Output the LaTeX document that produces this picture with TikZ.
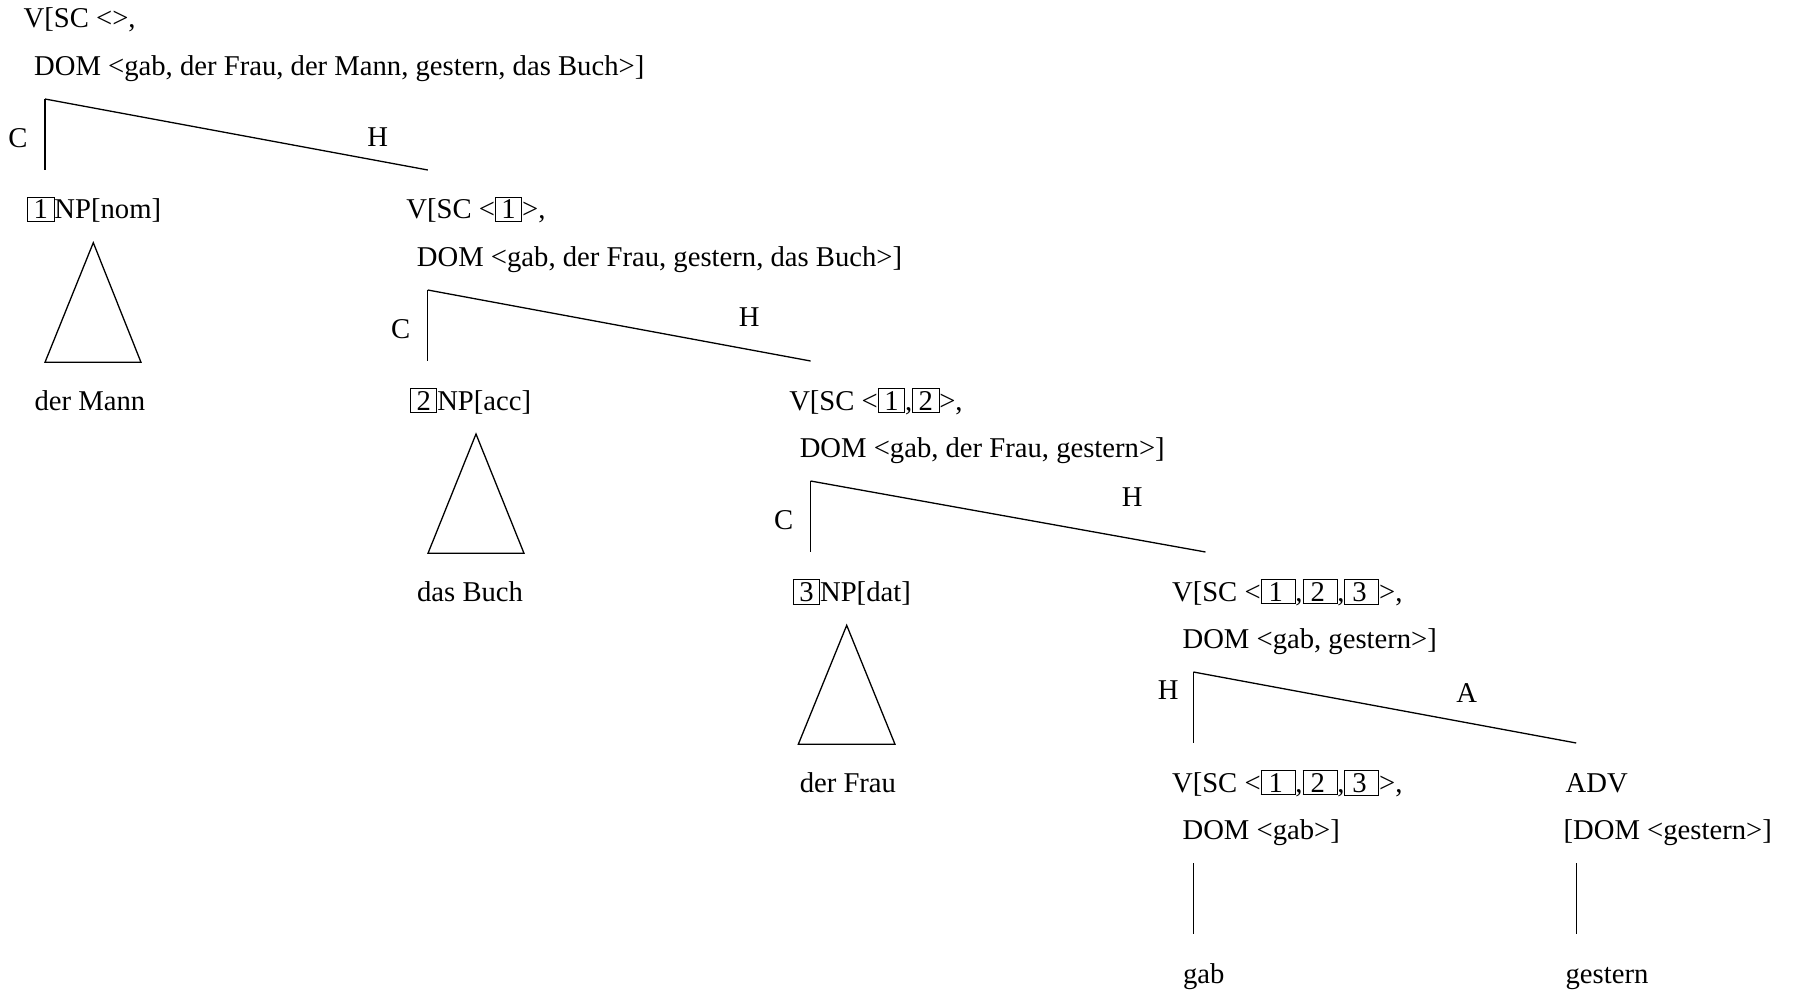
\documentclass[tikz,border=0pt]{standalone}
\usepackage{fontspec}
\setmainfont{Liberation Serif}
\usepackage{tikz}
\newcommand{\tagbox}[1]{{\setlength{\fboxsep}{1.2pt}\setlength{\fboxrule}{0.4pt}\fbox{\kern1.6pt#1\kern1.6pt}}}
\newcommand{\widetagbox}[1]{{\setlength{\fboxsep}{1.2pt}\setlength{\fboxrule}{0.4pt}\fbox{\kern2.4pt#1\kern4.6pt}}}
\tikzset{
    every node/.style={inner sep=0pt, font=\fontsize{14.33}{17}\selectfont}
}
\tikzset{
    cat/.style={anchor=base west}
}
\tikzset{
    every edge/.append style={line width=0.65pt}
}

\begin{document}
\begin{tikzpicture}[x=0.5pt, y=-0.5pt, line width=0.65pt]
	\useasboundingbox (0,0) rectangle (1795,995);
	% level 0
	\node (v0) [cat] at (23,28) {V[SC <>,};
	\node (dom0) [cat] at (33.5,75.5) {DOM <gab, der Frau, der Mann, gestern, das Buch>]};
	\coordinate (t0) at (45,99);
	\coordinate (l0) at (45,170);
	\coordinate (r0) at (427.8,170);
	\node (c0) at (18,138) {C};
	\node (h0) at (377.8,137.4) {H};
	% level 1
	\node (np1) [cat] at (26.7,219) {\tagbox{1}NP[nom]};
	\coordinate (ap1) at (93.3,242.7);
	\coordinate (bl1) at (45,362.3);
	\coordinate (br1) at (141,362.3);
	\node (mann) [cat] at (34,410) {der Mann};
	\node (v1) [cat] at (405.8,219) {V[SC <\tagbox{1}>,};
	\node (dom1) [cat] at (416.3,266.5) {DOM <gab, der Frau, gestern, das Buch>]};
	\coordinate (t1) at (427.8,290);
	\coordinate (l1) at (427.8,361);
	\coordinate (r1) at (810.6,361);
	\node (c1) at (400.7,329) {C};
	\node (h1) at (749.3,316.7) {H};
	% level 2
	\node (np2) [cat] at (409.5,410) {\tagbox{2}NP[acc]};
	\coordinate (ap2) at (476,434);
	\coordinate (bl2) at (428,553.3);
	\coordinate (br2) at (524,553.3);
	\node (buch) [cat] at (416.5,601) {das Buch};
	\node (v2) [cat] at (788.6,410) {V[SC <\tagbox{1},\tagbox{2}>,};
	\node (dom2) [cat] at (799.1,457.5) {DOM <gab, der Frau, gestern>]};
	\coordinate (t2) at (810.6,481);
	\coordinate (l2) at (810.6,552);
	\coordinate (r2) at (1205.5,552);
	\node (c2) at (783.6,520) {C};
	\node (h2) at (1132.3,497.3) {H};
	% level 3
	\node (np3) [cat] at (792.3,601) {\tagbox{3}NP[dat]};
	\coordinate (ap3) at (846.7,625.3);
	\coordinate (bl3) at (798.3,744.3);
	\coordinate (br3) at (895,744.3);
	\node (frau) [cat] at (799.1,792) {der Frau};
	\node (v3) [cat] at (1171.4,601) {V[SC <\widetagbox{1},\widetagbox{2},\widetagbox{3}>,};
	\node (dom3) [cat] at (1181.9,648.5) {DOM <gab, gestern>]};
	\coordinate (t3) at (1193.4,672);
	\coordinate (l3) at (1193.4,743);
	\coordinate (r3) at (1576.2,743);
	\node (h3) at (1168.3,690) {H};
	\node (a3) at (1466.7,693.3) {A};
	% level 4
	\node (v4) [cat] at (1171.4,792) {V[SC <\widetagbox{1},\widetagbox{2},\widetagbox{3}>,};
	\node (dom4) [cat] at (1181.9,839.5) {DOM <gab>]};
	\node (adv) [cat] at (1565,792) {ADV};
	\node (advdom) [cat] at (1563,839.5) {[DOM <gestern>]};
	\coordinate (tgab) at (1193.4,863);
	\coordinate (bgab) at (1193.4,934);
	\coordinate (tgest) at (1576.2,863);
	\coordinate (bgest) at (1576.2,934);
	\node (gab) [cat] at (1182.5,983) {gab};
	\node (gestern) [cat] at (1565,983) {gestern};

	\draw (t0) edge (l0); \draw (t0) edge (r0);
	\draw (t1) edge (l1); \draw (t1) edge (r1);
	\draw (t2) edge (l2); \draw (t2) edge (r2);
	\draw (t3) edge (l3); \draw (t3) edge (r3);
	\draw (tgab) edge (bgab); \draw (tgest) edge (bgest);
	\draw (ap1) -- (bl1) -- (br1) -- cycle;
	\draw (ap2) -- (bl2) -- (br2) -- cycle;
	\draw (ap3) -- (bl3) -- (br3) -- cycle;
\end{tikzpicture}
\end{document}
